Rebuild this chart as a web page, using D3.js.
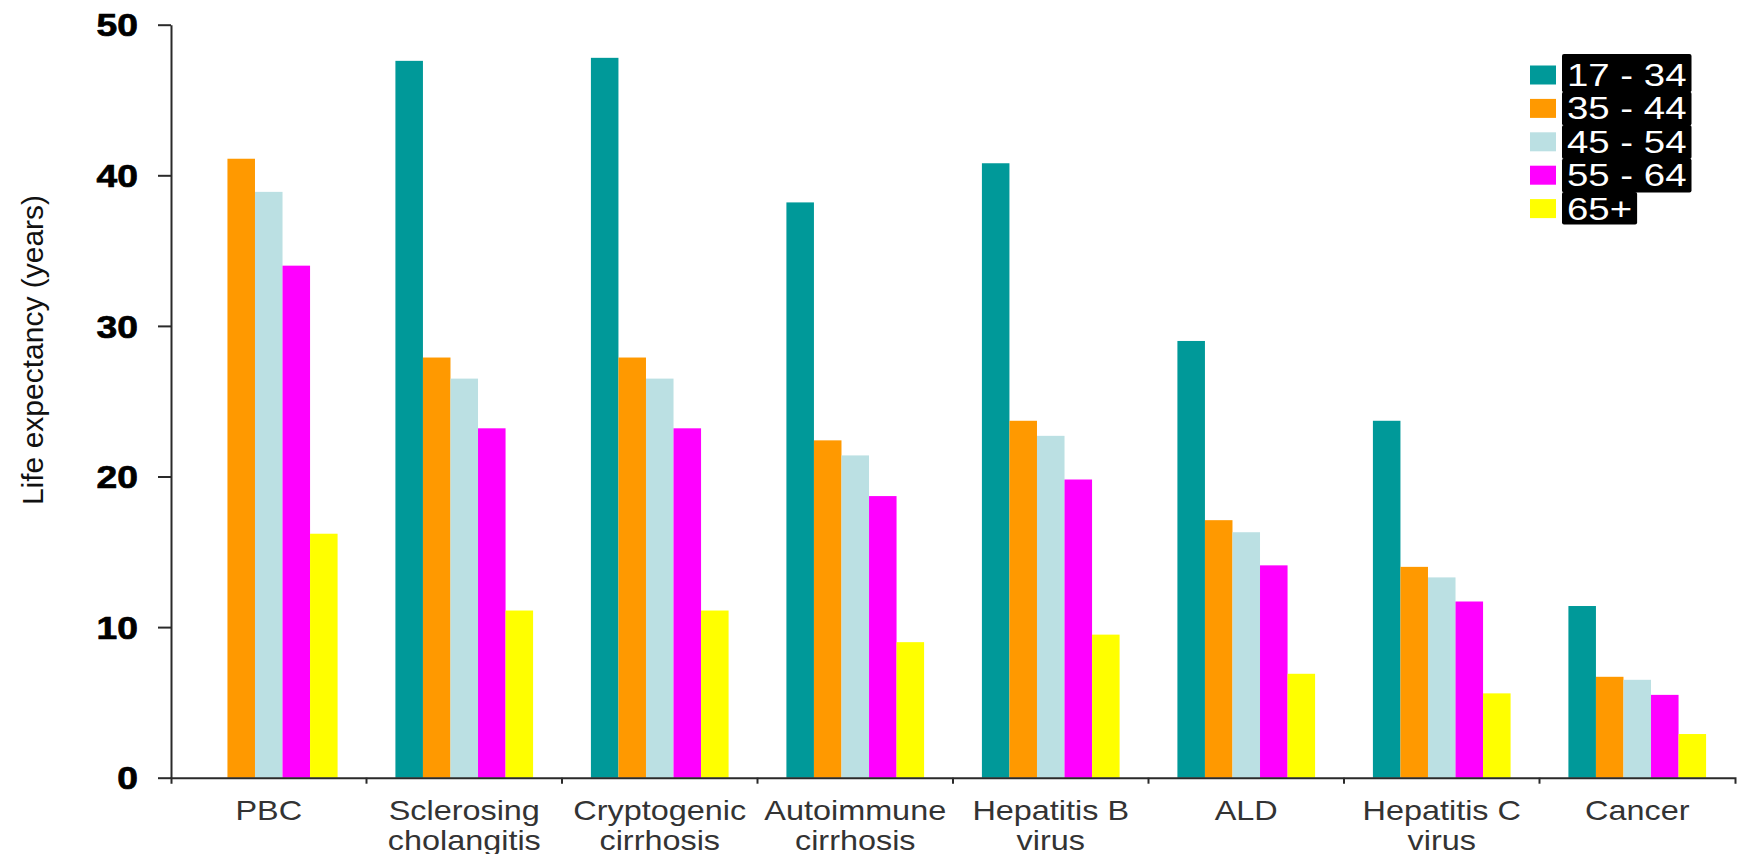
<!DOCTYPE html>
<html>
<head>
<meta charset="utf-8">
<script src="https://cdn.jsdelivr.net/npm/d3@7"></script>
<style>
  html, body { margin: 0; padding: 0; background: #fff; }
  svg { display: block; font-family: "Liberation Sans", Arial, sans-serif; }
</style>
</head>
<body>
<svg id="chart" width="1740" height="854"></svg>
<script>
// Liver disease categories (line breaks split the two-line labels)
const categories = [
  "PBC",
  "Sclerosing\ncholangitis",
  "Cryptogenic\ncirrhosis",
  "Autoimmune\ncirrhosis",
  "Hepatitis B\nvirus",
  "ALD",
  "Hepatitis C\nvirus",
  "Cancer"
];

// Age bands at listing
const ageGroups = ["17 - 34", "35 - 44", "45 - 54", "55 - 64", "65+"];

// Life expectancy (years) per age band, in category order; null = no bar
const age17to34 = [null, 47.6, 47.8, 38.2, 40.8, 29.0, 23.7, 11.4];
const age35to44 = [41.1, 27.9, 27.9, 22.4, 23.7, 17.1, 14.0, 6.7];
const age45to54 = [38.9, 26.5, 26.5, 21.4, 22.7, 16.3, 13.3, 6.5];
const age55to64 = [34.0, 23.2, 23.2, 18.7, 19.8, 14.1, 11.7, 5.5];
const age65plus = [16.2, 11.1, 11.1, 9.0, 9.5, 6.9, 5.6, 2.9];

const yTicks = [0, 10, 20, 30, 40, 50];
const yTitle = "Life expectancy (years)";

const seriesValues = [age17to34, age35to44, age45to54, age55to64, age65plus];
const seriesColors = ["#009999", "#FF9900", "#BBE0E3", "#FF00FF", "#FFFF00"];

// ---- layout ----
const plot = { left: 171, right: 1735, top: 24.7, bottom: 777.7 };
const stretch = 1.2;          // horizontal widening of the lettering
const axisColor = "#2a2a2a";

const svg = d3.select("#chart");

const x0 = d3.scaleBand()
  .domain(categories)
  .range([plot.left, plot.right])
  .paddingInner(0)
  .paddingOuter(0);

const x1 = d3.scaleBand()
  .domain(ageGroups)
  .range([0, x0.bandwidth()])
  .paddingInner(0)
  .paddingOuter(1.05);

const y = d3.scaleLinear()
  .domain([0, 50])
  .range([plot.bottom, plot.top]);

// ---- bars ----
const rows = categories.map((c, ci) => ({
  category: c,
  values: ageGroups.map((g, si) => ({ group: g, value: seriesValues[si][ci], color: seriesColors[si] }))
}));

const groups = svg.append("g").selectAll("g")
  .data(rows)
  .join("g")
  .attr("transform", d => `translate(${x0(d.category)},0)`);

groups.selectAll("rect")
  .data(d => d.values.filter(v => v.value != null))
  .join("rect")
  .attr("x", d => x1(d.group))
  .attr("width", x1.bandwidth())
  .attr("y", d => y(d.value))
  .attr("height", d => y(0) - y(d.value))
  .attr("fill", d => d.color);

// ---- y axis ----
const yAxis = svg.append("g")
  .attr("transform", `translate(${plot.left},0)`)
  .call(d3.axisLeft(y).tickValues(yTicks).tickSize(13).tickSizeOuter(0).tickFormat(d3.format("d")));

yAxis.select(".domain").attr("stroke", axisColor).attr("stroke-width", 2);
yAxis.selectAll(".tick line").attr("stroke", axisColor).attr("stroke-width", 2);
yAxis.selectAll(".tick text")
  .attr("x", null)
  .attr("dy", "0.36em")
  .attr("transform", `translate(-33,0) scale(${stretch},1)`)
  .attr("text-anchor", "end")
  .attr("fill", "#000")
  .attr("stroke", "#000")
  .attr("stroke-width", 0.7)
  .attr("font-size", 31)
  .attr("font-weight", "bold")
  .attr("font-family", "'Liberation Sans', Arial, sans-serif");

// ---- x axis ----
const xAxis = svg.append("g")
  .attr("transform", `translate(0,${plot.bottom})`)
  .call(d3.axisBottom(x0).tickSize(0).tickSizeOuter(6).tickFormat(""));

xAxis.select(".domain").attr("stroke", axisColor).attr("stroke-width", 2);
xAxis.selectAll(".tick").remove();

// category separators
xAxis.selectAll("line.sep")
  .data(categories.slice(1))
  .join("line")
  .attr("class", "sep")
  .attr("x1", d => x0(d)).attr("x2", d => x0(d))
  .attr("y1", 0).attr("y2", 6)
  .attr("stroke", axisColor).attr("stroke-width", 2);

// category labels
const labels = svg.append("g").selectAll("g")
  .data(categories)
  .join("g")
  .attr("transform", d => `translate(${x0(d) + x0.bandwidth() / 2},${plot.bottom + 42}) scale(${stretch},1)`);

labels.append("text")
  .attr("text-anchor", "middle")
  .attr("fill", "#333")
  .attr("font-size", 27)
  .selectAll("tspan")
  .data(d => d.split("\n"))
  .join("tspan")
  .attr("x", 0)
  .attr("dy", (d, i) => i === 0 ? 0 : 30)
  .text(d => d);

// ---- y title ----
svg.append("text")
  .attr("transform", `translate(32,350) rotate(-90)`)
  .attr("text-anchor", "middle")
  .attr("dominant-baseline", "central")
  .attr("fill", "#111")
  .attr("font-size", 30)
  .text(yTitle);

// ---- legend ----
const legend = svg.append("g").attr("transform", "translate(1530,75)");
const pitch = 33.4;

const items = legend.selectAll("g")
  .data(ageGroups)
  .join("g")
  .attr("transform", (d, i) => `translate(0,${i * pitch})`);

// black backing behind each label
const backs = items.append("rect")
  .attr("fill", "#000")
  .attr("rx", 2);

items.append("rect")
  .attr("x", 0)
  .attr("y", -9.5)
  .attr("width", 26)
  .attr("height", 19)
  .attr("fill", (d, i) => seriesColors[i]);

const texts = items.append("g")
  .attr("transform", `translate(37,11) scale(${stretch},1)`)
  .append("text")
  .attr("fill", "#fff")
  .attr("font-size", 32)
  .text(d => d);

backs.each(function(d, i) {
  const bb = texts.nodes()[i].getBBox();
  const w = bb.width * stretch + 10;
  const top = i === 0 ? -21 : -pitch / 2;
  const bottom = i === ageGroups.length - 1 ? 16 : pitch / 2 + 0.5;
  d3.select(this)
    .attr("x", 32)
    .attr("y", top)
    .attr("width", w)
    .attr("height", bottom - top);
});
</script>
</body>
</html>
